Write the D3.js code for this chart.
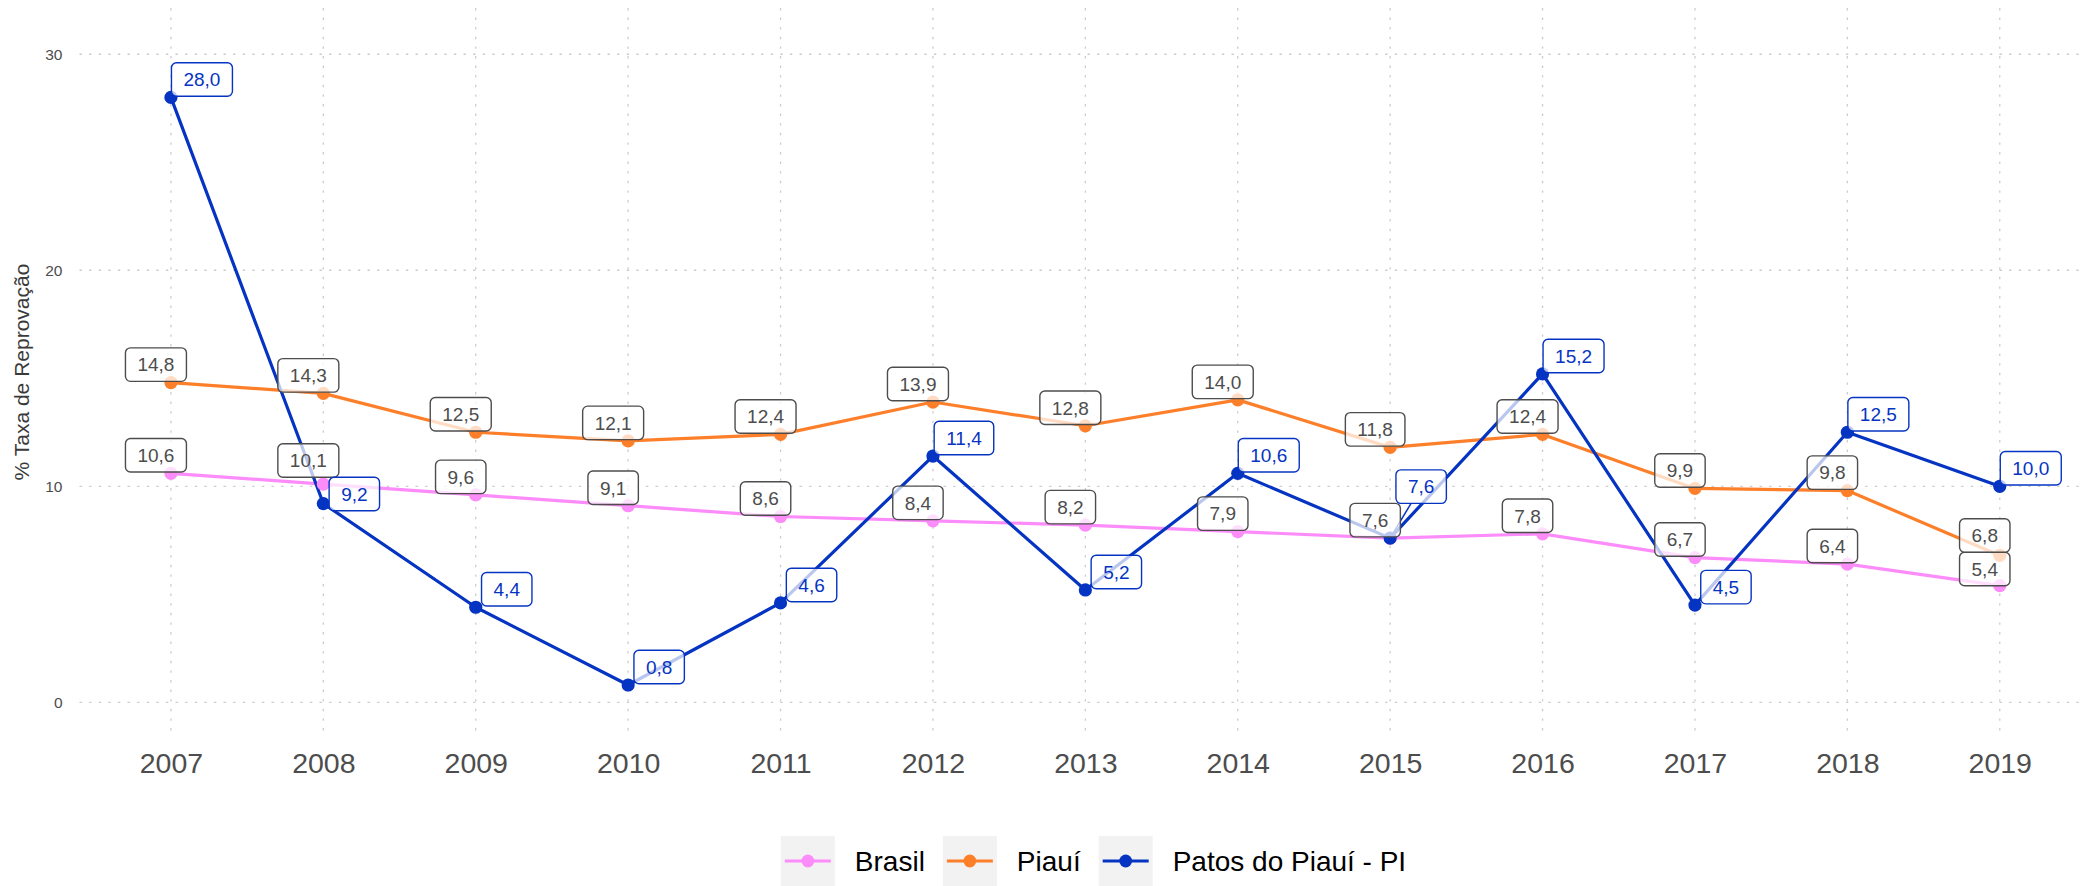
<!DOCTYPE html>
<html>
<head>
<meta charset="utf-8">
<script src="https://cdn.jsdelivr.net/npm/d3@7"></script>
<style>
  body { margin: 0; background: #ffffff; }
  svg { display: block; font-family: "Liberation Sans", Arial, Helvetica, sans-serif; }
</style>
</head>
<body>
<svg id="chart" width="2080" height="886"></svg>
<script>
// Taxa de reprovação (%) por ano
const anos   = ["2007","2008","2009","2010","2011","2012","2013","2014","2015","2016","2017","2018","2019"];
const brasil = [10.6, 10.1, 9.6, 9.1, 8.6, 8.4, 8.2, 7.9, 7.6, 7.8, 6.7, 6.4, 5.4];
const piaui  = [14.8, 14.3, 12.5, 12.1, 12.4, 13.9, 12.8, 14.0, 11.8, 12.4, 9.9, 9.8, 6.8];
const patos  = [28.0, 9.2, 4.4, 0.8, 4.6, 11.4, 5.2, 10.6, 7.6, 15.2, 4.5, 12.5, 10.0];
const nomesSeries = ["Brasil", "Piauí", "Patos do Piauí - PI"];
const yTicks = [0, 10, 20, 30];
const yTitulo = "% Taxa de Reprovação";

const svg = d3.select("#chart");
const painel = { left: 79.5, right: 2091.2, top: 8, bottom: 736 };

const x = d3.scalePoint().domain(anos).range([painel.left, painel.right]).padding(0.6);
const y = d3.scaleLinear().domain([-1.56, 32.14]).range([painel.bottom, painel.top]);

const series = [
  { nome: nomesSeries[0], valores: brasil, cor: "#fc8cfa", corRotulo: "#4d4d4d", dx: -15, dy: -18 },
  { nome: nomesSeries[1], valores: piaui,  cor: "#fd7f2a", corRotulo: "#4d4d4d", dx: -15, dy: -18 },
  { nome: nomesSeries[2], valores: patos,  cor: "#0634c2", corRotulo: "#0634c2", dx: 31,  dy: -18 }
];

// grade
const gradeCor = "#cccccc";
const grade = svg.append("g").attr("class", "grade");
grade.selectAll("line.h").data(yTicks).join("line")
  .attr("class", "h")
  .attr("x1", painel.left).attr("x2", painel.right)
  .attr("y1", d => y(d)).attr("y2", d => y(d))
  .attr("stroke", gradeCor).attr("stroke-width", 1.3).attr("stroke-dasharray", "2.4,7.2");
grade.selectAll("line.v").data(anos).join("line")
  .attr("class", "v")
  .attr("x1", d => x(d)).attr("x2", d => x(d))
  .attr("y1", painel.top).attr("y2", painel.bottom)
  .attr("stroke", gradeCor).attr("stroke-width", 1.3).attr("stroke-dasharray", "2.4,7.2");

// eixos
const eixoY = svg.append("g")
  .attr("transform", `translate(${painel.left},0)`)
  .call(d3.axisLeft(y).tickValues(yTicks).tickSize(0).tickPadding(17).tickFormat(d3.format("d")));
eixoY.select(".domain").remove();
eixoY.selectAll("text").attr("font-size", 15.5).attr("fill", "#4d4d4d")
  .attr("font-family", "Liberation Sans, Arial, sans-serif");

const eixoX = svg.append("g")
  .attr("transform", `translate(0,${painel.bottom})`)
  .call(d3.axisBottom(x).tickSize(0).tickPadding(16.7));
eixoX.select(".domain").remove();
eixoX.selectAll("text").attr("font-size", 28.5).attr("fill", "#4d4d4d")
  .attr("font-family", "Liberation Sans, Arial, sans-serif");

svg.append("text")
  .attr("transform", `translate(29,${(painel.top + painel.bottom) / 2}) rotate(-90)`)
  .attr("text-anchor", "middle")
  .attr("font-size", 21)
  .attr("fill", "#3a3a3a")
  .text(yTitulo);

// linhas
const linha = d3.line().x((d, i) => x(anos[i])).y(d => y(d));
svg.append("g").selectAll("path").data(series).join("path")
  .attr("d", s => linha(s.valores))
  .attr("fill", "none")
  .attr("stroke", s => s.cor)
  .attr("stroke-width", 3.2)
  .attr("stroke-linejoin", "round");

// pontos
svg.append("g").selectAll("g").data(series).join("g")
  .attr("fill", s => s.cor)
  .selectAll("circle").data(s => s.valores).join("circle")
  .attr("cx", (d, i) => x(anos[i]))
  .attr("cy", d => y(d))
  .attr("r", 6.6);

// rótulos com afastamento entre caixas sobrepostas
const fmt = v => d3.format(".1f")(v).replace(".", ",");
const fonteRotulo = 19;
const altCaixa = 33.5;
const medidor = svg.append("text").attr("font-size", fonteRotulo);
const rotulos = [];
series.forEach(s => {
  s.valores.forEach((v, i) => {
    const txt = fmt(v);
    medidor.text(txt);
    const w = medidor.node().getComputedTextLength() + 24;
    const px = x(anos[i]), py = y(v);
    rotulos.push({ s, v, txt, px, py, w, h: altCaixa, cx: px + s.dx, cy: py + s.dy });
  });
});
medidor.remove();

const topo = r => r.cy - r.h / 2, base = r => r.cy + r.h / 2;
const sobrepoe = (a, b) =>
  Math.abs(a.cx - b.cx) < (a.w + b.w) / 2 && Math.abs(a.cy - b.cy) < (a.h + b.h) / 2;

const colocados = [];
rotulos.forEach(r => {
  for (let k = 0; k < 10; k++) {
    const p = colocados.find(q => sobrepoe(q, r));
    if (!p) break;
    const subir = base(r) - topo(p);
    const descer = base(p) - topo(r);
    if (Math.abs(subir - descer) < 2) {
      r.cy -= subir;
    } else if (descer < subir) {
      p.cy -= 0.4 * descer;
      r.cy += 0.6 * descer;
    } else {
      p.cy += 0.4 * subir;
      r.cy -= 0.6 * subir;
    }
  }
  colocados.push(r);
});

// segmentos ligando rótulos deslocados aos seus pontos
function bordaCaixa(r) {
  const vx = r.px - r.cx, vy = r.py - r.cy;
  const t = Math.min(
    vx !== 0 ? (r.w / 2) / Math.abs(vx) : Infinity,
    vy !== 0 ? (r.h / 2) / Math.abs(vy) : Infinity
  );
  return [r.cx + vx * t, r.cy + vy * t];
}
const gSeg = svg.append("g");
rotulos.forEach(r => {
  const [bx, by] = bordaCaixa(r);
  const dist = Math.hypot(r.px - bx, r.py - by);
  if (dist > 12) {
    gSeg.append("line")
      .attr("x1", bx).attr("y1", by).attr("x2", r.px).attr("y2", r.py)
      .attr("stroke", r.s.corRotulo).attr("stroke-width", 1.5);
  }
});

const gRot = svg.append("g").selectAll("g").data(rotulos).join("g")
  .attr("transform", r => `translate(${r.cx},${r.cy})`);
gRot.append("rect")
  .attr("x", r => -r.w / 2).attr("y", r => -r.h / 2)
  .attr("width", r => r.w).attr("height", r => r.h)
  .attr("rx", 5).attr("ry", 5)
  .attr("fill", "#ffffff").attr("fill-opacity", 0.72)
  .attr("stroke", r => r.s.corRotulo).attr("stroke-width", 1.4);
gRot.append("text")
  .attr("text-anchor", "middle")
  .attr("y", 6.8)
  .attr("font-size", fonteRotulo)
  .attr("fill", r => r.s.corRotulo)
  .text(r => r.txt);

// legenda
const leg = svg.append("g");
const chaveW = 54, chaveH = 50, legY = 836, fonteLeg = 28;
const larguras = series.map(s => {
  const t = leg.append("text").attr("font-size", fonteLeg).text(s.nome);
  const w = t.node().getComputedTextLength();
  t.remove();
  return w;
});
const gapChaveTxt = 20, gapItens = 18;
const total = d3.sum(larguras) + series.length * (chaveW + gapChaveTxt) + (series.length - 1) * gapItens;
let lx = 1093.5 - total / 2;
series.forEach((s, i) => {
  const g = leg.append("g").attr("transform", `translate(${lx},${legY})`);
  g.append("rect").attr("width", chaveW).attr("height", chaveH).attr("fill", "#f2f2f2");
  g.append("line").attr("x1", 4).attr("x2", chaveW - 4)
    .attr("y1", chaveH / 2).attr("y2", chaveH / 2)
    .attr("stroke", s.cor).attr("stroke-width", 3.2);
  g.append("circle").attr("cx", chaveW / 2).attr("cy", chaveH / 2)
    .attr("r", 6.4).attr("fill", s.cor);
  g.append("text")
    .attr("x", chaveW + gapChaveTxt)
    .attr("y", chaveH / 2 + 10)
    .attr("font-size", fonteLeg)
    .attr("fill", "#000000")
    .text(s.nome);
  lx += chaveW + gapChaveTxt + larguras[i] + gapItens;
});
</script>
</body>
</html>
